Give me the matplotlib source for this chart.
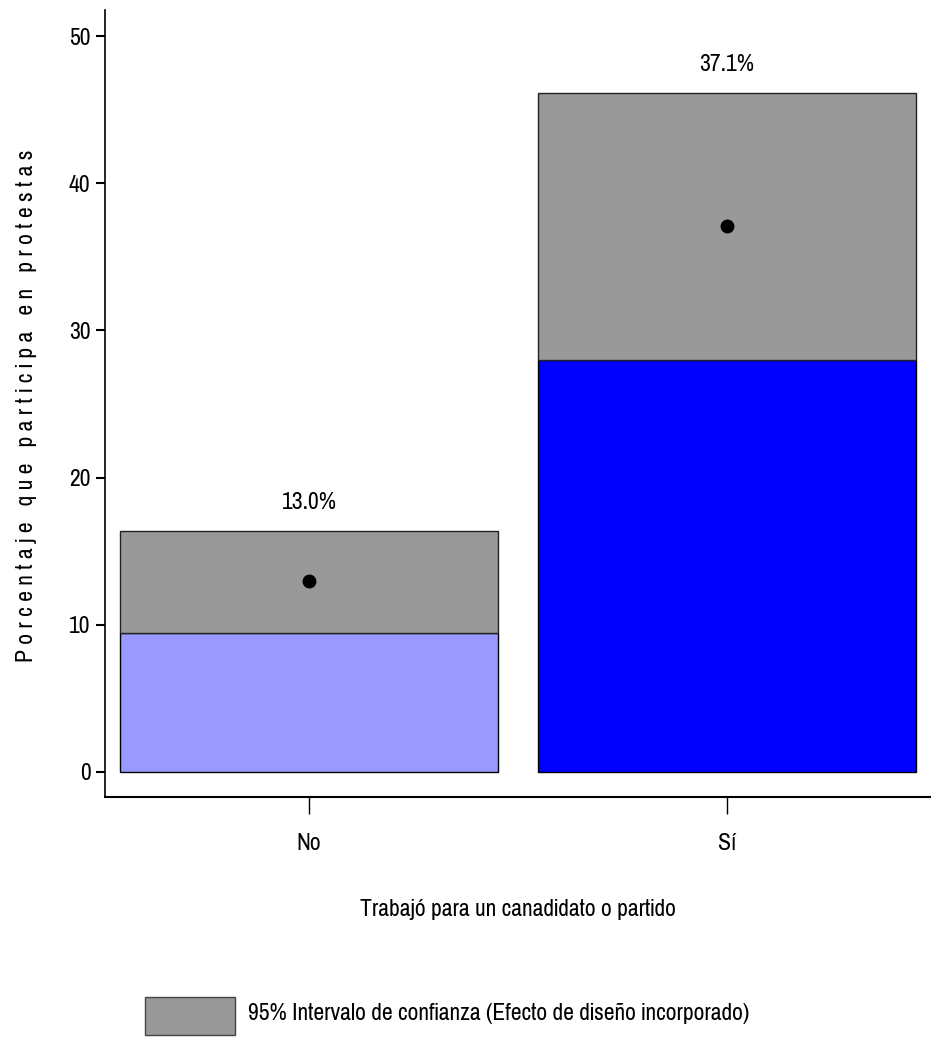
import matplotlib
matplotlib.use("Agg")
import matplotlib.pyplot as plt
from matplotlib.patches import Rectangle

categories = ["No", "Sí"]
means = [13.0, 37.1]
ci_low = [9.44, 28.0]
ci_high = [16.37, 46.13]
value_labels = ["13.0%", "37.1%"]
yticks = [0, 10, 20, 30, 40, 50]

bar_colors = ["#9999FF", "#0000FF"]
ci_color = "#999999"

FONT = ["Pragati Narrow", "Archivo Narrow", "DejaVu Sans"]
plt.rcParams["font.family"] = FONT
FS = 18.5

W, H = 931, 1037
fig = plt.figure(figsize=(W / 100, H / 100), dpi=100)
ax = fig.add_axes([105 / W, 1 - 797 / H, (W - 105) / W, (797 - 10) / H])

xs = list(range(len(categories)))
width = 0.902
for i, x in enumerate(xs):
    ax.bar(x, ci_low[i], width=width, bottom=0, color=bar_colors[i],
           edgecolor="black", linewidth=1.0, zorder=2)
    ax.bar(x, ci_high[i] - ci_low[i], width=width, bottom=ci_low[i],
           color=ci_color, edgecolor="#222222", linewidth=1.0, zorder=3)
    ax.plot([x], [means[i]], marker="o", markersize=9, color="black", zorder=4,
            linestyle="none")
    ax.text(x, ci_high[i] + 1.2, value_labels[i], ha="center", va="bottom",
            fontsize=FS, zorder=5)

ax.set_xlim(-0.488, 1.488)
ax.set_ylim(-1.70, 51.77)
ax.set_xticks(xs)
ax.set_xticklabels(categories, fontsize=FS)
ax.set_yticks(yticks)
ax.set_yticklabels([str(t) for t in yticks], fontsize=FS)
ax.tick_params(axis="x", length=12, width=1.0, pad=14)
ax.tick_params(axis="y", length=6.5, width=1.5, pad=4)
ax.spines["top"].set_visible(False)
ax.spines["right"].set_visible(False)
ax.spines["left"].set_linewidth(1.2)
ax.spines["bottom"].set_linewidth(1.5)

ax.set_xlabel("Trabajó para un canadidato o partido", fontsize=FS, labelpad=32)
ylabel = " ".join("Porcentaje que participa en protestas")
ax.set_ylabel(ylabel, fontsize=18.5, labelpad=13)
ax.yaxis.set_label_coords(-0.082, 0.497)

# legend
fig.patches.append(Rectangle((145 / W, 1 - 1035 / H), 90 / W, 38 / H,
                             transform=fig.transFigure, facecolor=ci_color,
                             edgecolor="#444444", linewidth=1.0))
fig.text(248 / W, 1 - 1014 / H,
         "95% Intervalo de confianza (Efecto de diseño incorporado)",
         fontsize=FS, va="center", ha="left")

fig.savefig("out.png", dpi=100)
